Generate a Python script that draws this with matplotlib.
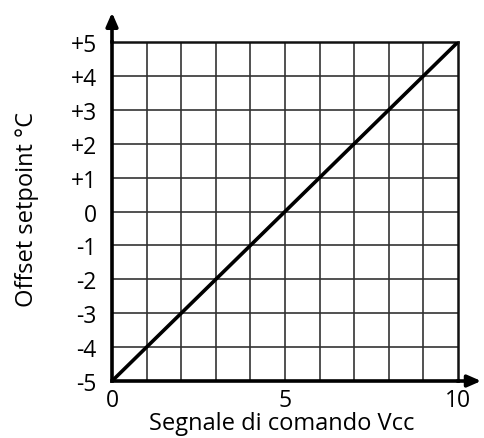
import numpy as np
import matplotlib.pyplot as plt

# Control signal (Vcc) vs. setpoint offset (°C)
signal_vcc = [0, 10]
offset_c = [-5, 5]

x_ticks = [0, 5, 10]
x_tick_labels = ["0", "5", "10"]
y_ticks = [-5, -4, -3, -2, -1, 0, 1, 2, 3, 4, 5]
y_tick_labels = ["-5", "-4", "-3", "-2", "-1", "0", "+1", "+2", "+3", "+4", "+5"]

plt.rcParams['font.family'] = ['Open Sans', 'DejaVu Sans']

fig = plt.figure(figsize=(4.84, 4.39), dpi=100)
ax = fig.add_axes([0.2314, 0.1298, 0.7149, 0.7722])

# grid every unit
for gx in range(1, 10):
    ax.axvline(gx, color='#333333', lw=1.2, zorder=1)
for gy in range(-4, 5):
    ax.axhline(gy, color='#333333', lw=1.2, zorder=1)

ax.plot(signal_vcc, offset_c, color='black', lw=2.6, zorder=3,
        solid_capstyle='butt')

ax.set_xlim(0, 10)
ax.set_ylim(-5, 5)

for side in ['top', 'right']:
    ax.spines[side].set_linewidth(1.8)
    ax.spines[side].set_color('#111111')
for side in ['left', 'bottom']:
    ax.spines[side].set_linewidth(2.6)
    ax.spines[side].set_color('black')

ax.set_xticks(x_ticks)
ax.set_xticklabels(x_tick_labels, fontsize=16.5)
ax.set_yticks(y_ticks)
ax.set_yticklabels(y_tick_labels, fontsize=16.5)
ax.tick_params(length=0, pad=5)
ax.tick_params(axis='y', pad=11)

ax.set_xlabel("Segnale di comando Vcc", fontsize=17)
ax.set_ylabel("Offset setpoint °C", fontsize=17)
ax.xaxis.set_label_coords(0.49, -0.088)
ax.yaxis.set_label_coords(-0.21, 0.509)

# axis arrows
ax.annotate('', xy=(0, 1.095), xytext=(0, 0.99), xycoords='axes fraction',
            arrowprops=dict(arrowstyle='-|>,head_width=0.35,head_length=0.8',
                            color='black', lw=2.6), annotation_clip=False)
ax.annotate('', xy=(1.075, 0), xytext=(0.99, 0), xycoords='axes fraction',
            arrowprops=dict(arrowstyle='-|>,head_width=0.35,head_length=0.8',
                            color='black', lw=2.6), annotation_clip=False)

fig.savefig('out.png', dpi=100)
